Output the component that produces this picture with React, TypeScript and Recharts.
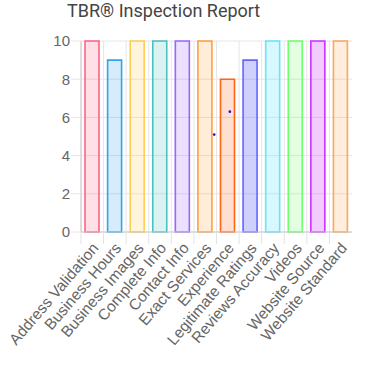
import React from 'react';
import { ComposedChart, Bar, Scatter, XAxis, YAxis, CartesianGrid, Cell } from 'recharts';

const categories = [
  'Address Validation', 'Business Hours', 'Business Images', 'Complete Info',
  'Contact Info', 'Exact Services', 'Experience', 'Legitimate Ratings',
  'Reviews Accuracy', 'Videos', 'Website Source', 'Website Standard',
];
const scores = [10, 9, 10, 10, 10, 10, 8, 9, 10, 10, 10, 10];
const borderColors = [
  'rgb(255,99,132)', 'rgb(54,162,235)', 'rgb(255,205,86)', 'rgb(75,192,192)',
  'rgb(153,102,255)', 'rgb(255,159,64)', 'rgb(255,102,20)', 'rgb(100,100,255)',
  'rgb(100,228,255)', 'rgb(110,255,110)', 'rgb(204,51,255)', 'rgb(255,166,90)',
];
const fillColors = [
  'rgba(255,99,132,0.2)', 'rgba(54,162,235,0.2)', 'rgba(255,205,86,0.2)', 'rgba(75,192,192,0.2)',
  'rgba(153,102,255,0.2)', 'rgba(255,159,64,0.2)', 'rgba(255,102,20,0.2)', 'rgba(100,100,255,0.3)',
  'rgba(100,228,255,0.25)', 'rgba(110,255,110,0.2)', 'rgba(204,51,255,0.25)', 'rgba(255,166,90,0.2)',
];
const yTicks = [0, 2, 4, 6, 8, 10];
// stray points drawn on top of the bars (fractional category position, value)
const dotX = [5.9, 6.59];
const dotY = [5.1, 6.3];

const data = categories.map((name, i) => ({ name, score: scores[i] }));
const dots = dotX.map((x, i) => ({ x, y: dotY[i] }));

const W = 382;
const H = 383;
const M = { top: 41, right: 30, bottom: 0, left: 0 };
const Y_W = 81;
const X_H = 151;
const band = (W - M.left - M.right - Y_W) / categories.length;
const font = '"Liberation Sans", Arial, sans-serif';

const XTick = (props: any) => {
  const { x, y, payload } = props;
  return (
    <g transform={`translate(${x},${y})`}>
      <line x1={-band / 2} x2={-band / 2} y1={0} y2={12} stroke="#e2e2e2" />
      <text
        x={0}
        y={0}
        transform="translate(3,13) rotate(-49.5)"
        textAnchor="end"
        dy="0.35em"
        fill="#666"
        fontSize={15.5}
        fontFamily={font}
      >
        {payload.value}
      </text>
    </g>
  );
};

export default function App() {
  return (
    <div style={{ position: 'absolute', left: 0, top: 0, width: W, height: H, background: '#fff' }}>
      <div
        style={{
          position: 'absolute', left: 67, top: 0, fontFamily: 'Roboto, sans-serif', fontSize: 18,
          fontWeight: 400, color: '#444', whiteSpace: 'nowrap', lineHeight: '22px',
        }}
      >
        TBR® Inspection Report
      </div>
      <ComposedChart width={W} height={H} data={data} margin={M}>
        <CartesianGrid
          stroke="#e6e6e6"
          verticalCoordinatesGenerator={({ offset }: any) =>
            categories.map((_, i) => offset.left + i * (offset.width / categories.length))
          }
        />
        <XAxis
          dataKey="name"
          interval={0}
          height={X_H}
          tickSize={0}
          tickMargin={0}
          tickLine={false}
          axisLine={{ stroke: '#c8c8c8' }}
          tick={<XTick />}
        />
        <XAxis xAxisId="pts" type="number" dataKey="x" domain={[0, 12]} hide />
        <YAxis
          width={Y_W}
          domain={[0, 10]}
          ticks={yTicks}
          interval={0}
          tickSize={10}
          tickMargin={1}
          tickLine={{ stroke: '#e6e6e6' }}
          axisLine={{ stroke: '#c8c8c8' }}
          tick={{ fill: '#666', fontSize: 15, fontFamily: font }}
        />
        <Bar dataKey="score" barSize={14} strokeWidth={1.6} isAnimationActive={false}>
          {data.map((d, i) => (
            <Cell key={d.name} fill={fillColors[i]} stroke={borderColors[i]} />
          ))}
        </Bar>
        <Scatter
          xAxisId="pts"
          data={dots}
          dataKey="y"
          fill="#1010ff"
          isAnimationActive={false}
          shape={(p: any) => <circle cx={p.cx} cy={p.cy} r={1.3} fill="#1010ff" />}
        />
      </ComposedChart>
    </div>
  );
}
